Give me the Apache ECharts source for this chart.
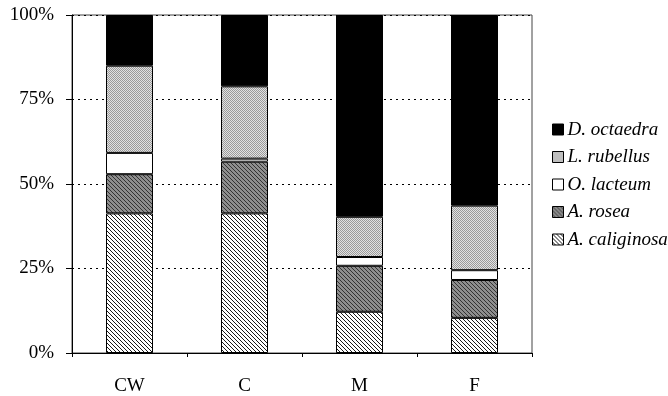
<!DOCTYPE html>
<html>
<head>
<meta charset="utf-8">
<script src="https://cdn.jsdelivr.net/npm/echarts@6/dist/echarts.min.js"></script>
<style>
  html, body { margin: 0; padding: 0; background: #fff; }
  #chart { width: 668px; height: 396px; }
</style>
</head>
<body>
<div id="chart"></div>
<script>
var sites = ['CW', 'C', 'M', 'F'];
var caliginosa = [41.3, 41.3, 12.2, 10.4];
var rosea = [11.6, 15.3, 13.6, 11.2];
var lacteum = [6.3, 0.9, 2.6, 2.9];
var rubellus = [25.8, 21.4, 11.9, 19.1];
var octaedra = [15.0, 21.1, 59.7, 56.4];
var yTicks = [0, 25, 50, 75, 100];

// little fill patterns for the bars
function makePattern(size, bg, fg, test) {
    var c = document.createElement('canvas');
    c.width = size;
    c.height = size;
    var ctx = c.getContext('2d');
    ctx.fillStyle = bg;
    ctx.fillRect(0, 0, size, size);
    ctx.fillStyle = fg;
    for (var x = 0; x < size; x++) {
        for (var y = 0; y < size; y++) {
            if (test(x, y)) ctx.fillRect(x, y, 1, 1);
        }
    }
    return { image: c, repeat: 'repeat' };
}

var hatch = makePattern(4, '#ffffff', '#1a1a1a', function (x, y) { return (x - y + 8) % 4 == 0; });
var darkHatch = makePattern(4, '#8e8e8e', '#333333', function (x, y) { return (x - y + 8) % 4 == 0 || (x + y) % 4 == 0 && x % 2 == 0; });
var stipple = makePattern(4, '#e2e2e2', '#9a9a9a', function (x, y) { return (x + y) % 2 == 0 && (x * 3 + y) % 4 != 1; });

var font = 'Liberation Serif';

var chart = echarts.init(document.getElementById('chart'));

function bar(name, data, fill) {
    return {
        name: name,
        type: 'bar',
        stack: 'all',
        barWidth: 47,
        data: data,
        itemStyle: {
            color: fill,
            borderColor: '#000',
            borderWidth: 1
        }
    };
}

var option = {
    animation: false,
    backgroundColor: '#fff',
    grid: {
        left: 72,
        right: 136,
        top: 15,
        bottom: 43,
        show: true,
        borderColor: '#444',
        borderWidth: 1
    },
    legend: {
        orient: 'vertical',
        left: 552,
        top: 120,
        padding: 0,
        itemWidth: 11,
        itemHeight: 11,
        itemGap: 8.5,
        icon: 'rect',
        data: ['D. octaedra', 'L. rubellus', 'O. lacteum', 'A. rosea', 'A. caliginosa'],
        itemStyle: { borderColor: '#000', borderWidth: 1 },
        textStyle: {
            fontFamily: font,
            fontStyle: 'italic',
            fontSize: 19,
            color: '#000',
            padding: [0, 0, 0, -1]
        }
    },
    xAxis: {
        type: 'category',
        data: sites,
        axisLine: { lineStyle: { color: '#000', width: 1 } },
        axisTick: { show: true, length: 4, lineStyle: { color: '#000' } },
        axisLabel: {
            fontFamily: font,
            fontSize: 19,
            color: '#000',
            margin: 24
        }
    },
    yAxis: {
        type: 'value',
        min: 0,
        max: 100,
        interval: 25,
        axisLine: { show: true, lineStyle: { color: '#000', width: 1 } },
        axisTick: { show: true, length: 6, lineStyle: { color: '#000' } },
        axisLabel: {
            fontFamily: font,
            fontSize: 19,
            color: '#000',
            margin: 18,
            formatter: function (v) { return yTicks.indexOf(v) >= 0 ? v + '%' : ''; }
        },
        splitLine: {
            show: true,
            lineStyle: { color: '#000', type: [2, 4], width: 1 }
        }
    },
    series: [
        bar('A. caliginosa', caliginosa, hatch),
        bar('A. rosea', rosea, darkHatch),
        bar('O. lacteum', lacteum, '#ffffff'),
        bar('L. rubellus', rubellus, stipple),
        bar('D. octaedra', octaedra, '#000000')
    ]
};

chart.setOption(option);
</script>
</body>
</html>
